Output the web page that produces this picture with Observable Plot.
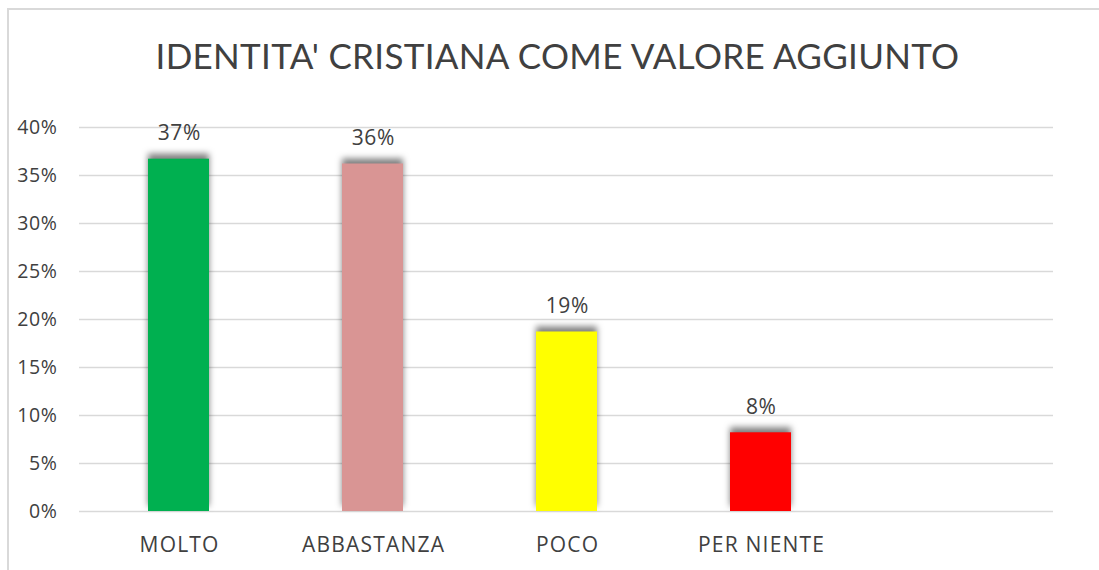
<!DOCTYPE html>
<html>
<head>
<meta charset="utf-8">
<script src="https://cdn.jsdelivr.net/npm/d3@7"></script>
<script src="https://cdn.jsdelivr.net/npm/@observablehq/plot@0.6"></script>
<style>
  html, body { margin: 0; padding: 0; background: #fff; overflow: hidden; }
  #frame {
    position: absolute; left: 7px; top: 8px; width: 1200px; height: 700px;
    border: 2px solid #d9d9d9; background: #fff;
  }
  #title {
    height: 90px; line-height: 90px; text-align: center;
    font-family: Lato, sans-serif; font-size: 35px; font-weight: 400; color: #404040;
    width: 1097px; letter-spacing: 0.3px;
  }
  .bars rect { filter: drop-shadow(0px -5px 3px rgba(0,0,0,0.5)); }
  .xax text { letter-spacing: 1.2px; }
  .yax text { letter-spacing: 0.6px; }
  .vals text { letter-spacing: 0.5px; }
</style>
</head>
<body>
<div id="frame">
  <div id="title">IDENTITA' CRISTIANA COME VALORE AGGIUNTO</div>
  <div id="chart"></div>
</div>
<script>
const categories = ["MOLTO", "ABBASTANZA", "POCO", "PER NIENTE"];
const values = [0.367, 0.362, 0.187, 0.082];
const labels = ["37%", "36%", "19%", "8%"];
const colors = ["#00b050", "#d99594", "#ffff00", "#ff0000"];
const yTicks = [0, 0.05, 0.10, 0.15, 0.20, 0.25, 0.30, 0.35, 0.40];

const data = categories.map((c, i) => ({category: c, value: values[i], label: labels[i], color: colors[i]}));
const pct = d => Math.round(d * 100) + "%";

const plot = Plot.plot({
  width: 1090,
  height: 471,
  marginLeft: 70,
  marginRight: 46,
  marginTop: 27,
  marginBottom: 60,
  style: { fontFamily: "'Open Sans', sans-serif", fontSize: "19px", color: "#404040", background: "#fff" },
  x: { domain: [...categories, " "], paddingInner: 0.687, paddingOuter: 0.3435, label: null },
  y: { domain: [0, 0.4], label: null },
  marks: [
    Plot.gridY(yTicks, { stroke: "#d9d9d9", strokeOpacity: 1, strokeWidth: 1.3 }),
    Plot.barY(data, { x: "category", y: "value", fill: "color", className: "bars" }),
    Plot.text(data, { x: "category", y: "value", text: "label", dy: -26, dx: 0.3, fill: "#404040", fontSize: 21, className: "vals" }),
    Plot.axisX({ tickSize: 0, tickPadding: 26, fontSize: 21, fill: "#404040", className: "xax", dx: 0.6 }),
    Plot.axisY({ ticks: yTicks, tickFormat: pct, tickSize: 0, tickPadding: 22, fontSize: 19.5, fill: "#404040", className: "yax" })
  ]
});
document.getElementById("chart").appendChild(plot);
</script>
</body>
</html>
